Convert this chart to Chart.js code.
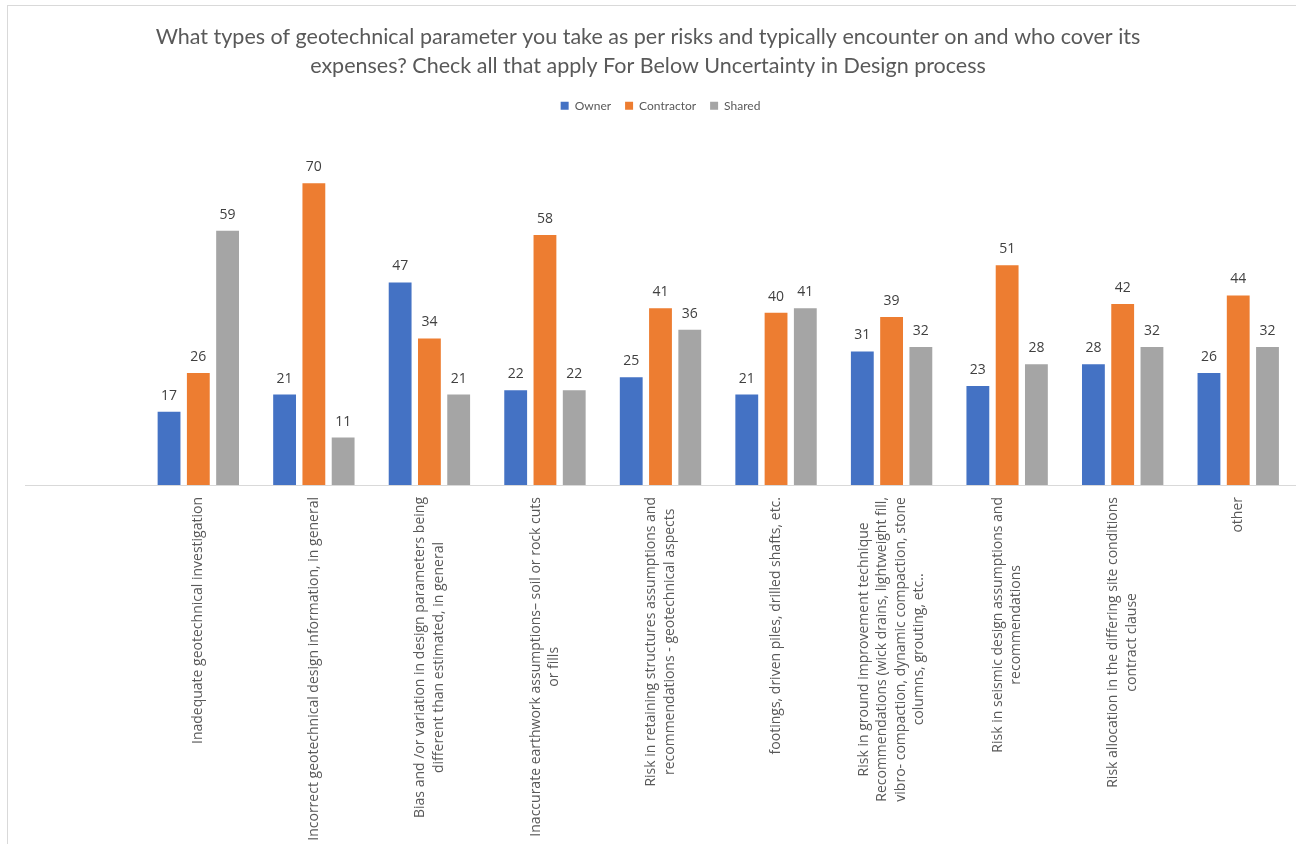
<!DOCTYPE html>
<html>
<head>
<meta charset="utf-8">
<script src="https://cdn.jsdelivr.net/npm/chart.js@4/dist/chart.umd.min.js"></script>
<style>
  html, body { margin: 0; padding: 0; background: #ffffff; overflow: hidden; }
  #wrap { position: relative; width: 1296px; height: 844px; }
  #frame { position: absolute; left: 7px; top: 5px; width: 1400px; height: 900px;
           border-top: 1px solid #D9D9D9; border-left: 1px solid #D9D9D9; pointer-events: none; }
  canvas { position: absolute; left: 0; top: 0; }
</style>
</head>
<body>
<div id="wrap">
  <canvas id="c" width="1296" height="844"></canvas>
  <div id="frame"></div>
</div>
<script>
const titleLines = [
  "What types of geotechnical parameter you take as per risks and typically encounter on and who cover its",
  "expenses? Check all that apply For Below Uncertainty in Design process"
];
const categories = [
  [""],
  ["Inadequate geotechnical investigation"],
  ["Incorrect geotechnical design information, in general"],
  ["Bias and /or variation in design parameters being", "different than estimated, in general"],
  ["Inaccurate earthwork assumptions\u2013 soil or rock cuts", "or fills"],
  ["Risk in retaining structures assumptions and", "recommendations - geotechnical aspects"],
  ["footings, driven piles, drilled shafts, etc."],
  ["Risk in ground improvement technique", "Recommendations (wick drains, lightweight fill,", "vibro- compaction, dynamic compaction, stone", "columns, grouting, etc.."],
  ["Risk in seismic design assumptions and", "recommendations"],
  ["Risk allocation in the differing site conditions", "contract clause"],
  ["other"]
];
const seriesNames = ["Owner", "Contractor", "Shared"];
const ownerValues      = [null, 17, 21, 47, 22, 25, 21, 31, 23, 28, 26];
const contractorValues = [null, 26, 70, 34, 58, 41, 40, 39, 51, 42, 44];
const sharedValues     = [null, 59, 11, 21, 22, 36, 41, 32, 28, 32, 32];
const yMin = 0, yMax = 80;

const colors = ["#4472C4", "#ED7D31", "#A5A5A5"];

const legendGap = {
  id: 'legendGap',
  beforeInit(chart) {
    const lg = chart.legend;
    if (!lg) return;
    const origFit = lg.fit;
    lg.fit = function () {
      origFit.call(this);
      this.height += 18.5;
    };
  }
};

const valueLabels = {
  id: 'valueLabels',
  afterDatasetsDraw(chart) {
    const ctx = chart.ctx;
    ctx.save();
    ctx.font = '14px "Open Sans", sans-serif';
    ctx.fillStyle = '#404040';
    ctx.textAlign = 'center';
    ctx.textBaseline = 'alphabetic';
    chart.data.datasets.forEach((ds, di) => {
      const meta = chart.getDatasetMeta(di);
      meta.data.forEach((bar, i) => {
        const v = ds.data[i];
        if (v === null || v === undefined) return;
        ctx.fillText(String(v), bar.x, bar.y - 12);
      });
    });
    ctx.restore();
  }
};

const xLabels = {
  id: 'xLabels',
  afterDraw(chart) {
    const ctx = chart.ctx;
    const xs = chart.scales.x;
    const top = xs.top + 12;
    const lh = 18.5;
    ctx.save();
    ctx.font = '14px "Open Sans", sans-serif';
    ctx.fillStyle = '#595959';
    ctx.textAlign = 'center';
    ctx.textBaseline = 'middle';
    categories.forEach((lines, i) => {
      const w = Math.max(...lines.map(l => ctx.measureText(l).width));
      if (w <= 0) return;
      const cx = xs.getPixelForValue(i);
      ctx.save();
      ctx.translate(cx, top + w / 2);
      ctx.rotate(-Math.PI / 2);
      const n = lines.length;
      lines.forEach((l, k) => {
        ctx.fillText(l, 0, (k - (n - 1) / 2) * lh);
      });
      ctx.restore();
    });
    ctx.restore();
  }
};

new Chart(document.getElementById('c'), {
  type: 'bar',
  data: {
    labels: categories,
    datasets: [
      { label: seriesNames[0], data: ownerValues, backgroundColor: colors[0] },
      { label: seriesNames[1], data: contractorValues, backgroundColor: colors[1] },
      { label: seriesNames[2], data: sharedValues, backgroundColor: colors[2] }
    ]
  },
  options: {
    responsive: false,
    animation: false,
    events: [],
    layout: { padding: { left: 0, right: 0, top: 0, bottom: 359 } },
    datasets: { bar: { categoryPercentage: 0.76, barPercentage: 0.78 } },
    scales: {
      x: {
        offset: true,
        grid: { display: false, drawTicks: false },
        border: { display: true, color: '#D9D9D9', width: 1 },
        ticks: { display: false }
      },
      y: {
        display: true,
        min: yMin, max: yMax,
        grid: { display: false, drawTicks: false },
        border: { display: false },
        ticks: { display: false },
        afterFit(scale) { scale.width = 25; }
      }
    },
    plugins: {
      title: {
        display: true,
        text: titleLines,
        color: '#595959',
        font: { family: 'Lato, sans-serif', size: 21.5, weight: 'normal', lineHeight: 1.32 },
        padding: { top: 23, bottom: 6 }
      },
      legend: {
        display: true,
        position: 'top',
        fullSize: false,
        labels: {
          color: '#595959',
          font: { family: 'Lato, sans-serif', size: 12 },
          boxWidth: 8, boxHeight: 8,
          padding: 14
        }
      },
      tooltip: { enabled: false }
    }
  },
  plugins: [legendGap, valueLabels, xLabels]
});
</script>
</body>
</html>
